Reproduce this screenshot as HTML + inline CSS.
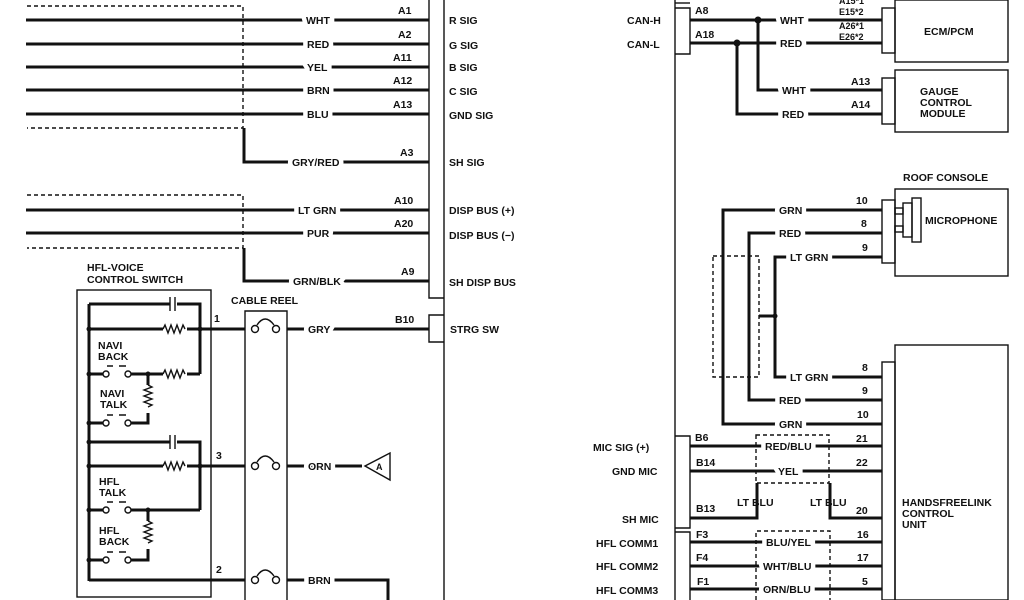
<!DOCTYPE html>
<html><head><meta charset="utf-8"><style>
html,body{margin:0;padding:0;background:#fff}
svg{display:block}
text{font-family:"Liberation Sans",Arial,sans-serif;font-weight:bold;font-size:10.5px;fill:#111}
.wl{paint-order:stroke;stroke:#fff;stroke-width:9px;stroke-linejoin:miter}
.w{stroke:#111;stroke-width:3;fill:none}
.t{stroke:#111;stroke-width:1.4;fill:none}
.d{stroke:#111;stroke-width:1.4;fill:none;stroke-dasharray:4,3}
</style></head><body>
<svg width="1024" height="600" viewBox="0 0 1024 600" xmlns="http://www.w3.org/2000/svg">
<g class="w">
<path d="M26 20H429M26 44H429M26 67H429M26 90H429M26 114H429"/>
<path d="M244 128V162H429"/>
<path d="M26 210H429M26 233H429"/>
<path d="M244 248V281H429"/>
<path d="M287 329H429"/>
<path d="M287 466H362"/>
<path d="M287 580H388V600"/>
</g>
<g class="d">
<path d="M27 6H243V128H27"/>
<path d="M27 195H243V248H27"/>
</g>
<g class="t">
<path d="M429 0V298H444M444 0V600"/>
<path d="M444 315H429V342H444"/>
</g>
<g>
<text x="306" y="24" class="wl">WHT</text>
<text x="307" y="48" class="wl">RED</text>
<text x="307" y="71" class="wl">YEL</text>
<text x="307" y="94" class="wl">BRN</text>
<text x="307" y="118" class="wl">BLU</text>
<text x="292" y="166" class="wl">GRY/RED</text>
<text x="298" y="214" class="wl">LT GRN</text>
<text x="307" y="237" class="wl">PUR</text>
<text x="293" y="285" class="wl">GRN/BLK</text>
<text x="308" y="333" class="wl">GRY</text>
<text x="308" y="470" class="wl">ORN</text>
<text x="308" y="584" class="wl">BRN</text>
<text x="398" y="14">A1</text><text x="398" y="38">A2</text><text x="393" y="61">A11</text>
<text x="393" y="84">A12</text><text x="393" y="108">A13</text><text x="400" y="156">A3</text>
<text x="394" y="204">A10</text><text x="394" y="227">A20</text><text x="401" y="275">A9</text>
<text x="395" y="323">B10</text>
<text x="449" y="24">R SIG</text><text x="449" y="49">G SIG</text><text x="449" y="71">B SIG</text>
<text x="449" y="95">C SIG</text><text x="449" y="119">GND SIG</text><text x="449" y="166">SH SIG</text>
<text x="449" y="214">DISP BUS (+)</text><text x="449" y="239">DISP BUS (−)</text>
<text x="449" y="286">SH DISP BUS</text><text x="450" y="333">STRG SW</text>
</g>
<path d="M365 466L390 453V480Z" class="t"/>
<text x="376" y="470" style="font-size:9px">A</text>
<text x="87" y="271">HFL-VOICE</text><text x="87" y="283">CONTROL SWITCH</text>
<rect x="77" y="290" width="134" height="307" class="t"/>
<g class="w" stroke-width="2.5">
<path d="M89 304V581"/>
<path d="M89 304H170M177 304H200V374"/>
<path d="M89 329H163M187 329H245"/>
<path d="M89 374H103M131 374H163M187 374H200"/>
<path d="M148 374V385M148 413V423H131M89 423H103"/>
<path d="M89 442H170M177 442H200V510"/>
<path d="M89 466H163M187 466H245"/>
<path d="M89 510H103M131 510H200"/>
<path d="M148 510V521M148 549V560H131M89 560H103"/>
<path d="M89 580H245"/>
</g>
<g class="t" stroke-width="1.6">
<path d="M170 297V311M175 297V311"/><path d="M170 435V449M175 435V449"/>
<path d="M163 329l2-4 3 8 3-8 3 8 3-8 3 8 3-8 2 4"/>
<path d="M163 466l2-4 3 8 3-8 3 8 3-8 3 8 3-8 2 4"/>
<path d="M163 374l2-4 3 8 3-8 3 8 3-8 3 8 3-8 2 4"/>
<path d="M148 385l4 2-8 3 8 3-8 3 8 3-8 3 8 3-4 2"/>
<path d="M148 521l4 2-8 3 8 3-8 3 8 3-8 3 8 3-4 2"/>
<circle cx="106" cy="374" r="3" fill="#fff"/><circle cx="128" cy="374" r="3" fill="#fff"/>
<circle cx="106" cy="423" r="3" fill="#fff"/><circle cx="128" cy="423" r="3" fill="#fff"/>
<circle cx="106" cy="510" r="3" fill="#fff"/><circle cx="128" cy="510" r="3" fill="#fff"/>
<circle cx="106" cy="560" r="3" fill="#fff"/><circle cx="128" cy="560" r="3" fill="#fff"/>
<path d="M107 366H113M119 366H126M107 415H113M119 415H126M107 502H113M119 502H126M107 552H113M119 552H126"/>
</g>
<g fill="#111"><circle cx="89" cy="329" r="2.5"/><circle cx="89" cy="374" r="2.5"/><circle cx="89" cy="423" r="2.5"/><circle cx="89" cy="442" r="2.5"/><circle cx="89" cy="466" r="2.5"/><circle cx="89" cy="510" r="2.5"/><circle cx="89" cy="560" r="2.5"/><circle cx="200" cy="329" r="2.5"/><circle cx="200" cy="466" r="2.5"/><circle cx="148" cy="374" r="2.5"/><circle cx="148" cy="510" r="2.5"/></g>
<text x="98" y="349">NAVI</text><text x="98" y="360">BACK</text>
<text x="100" y="397">NAVI</text><text x="100" y="408">TALK</text>
<text x="99" y="485">HFL</text><text x="99" y="496">TALK</text>
<text x="99" y="534">HFL</text><text x="99" y="545">BACK</text>
<text x="214" y="322">1</text><text x="216" y="459">3</text><text x="216" y="573">2</text>
<text x="231" y="304">CABLE REEL</text>
<path d="M245 600V311H287V600" class="t"/>
<g class="t" stroke-width="1.6">
<circle cx="255" cy="329" r="3.5" fill="#fff"/><circle cx="276" cy="329" r="3.5" fill="#fff"/><path d="M257 325Q265 313 274 325"/>
<circle cx="255" cy="466" r="3.5" fill="#fff"/><circle cx="276" cy="466" r="3.5" fill="#fff"/><path d="M257 462Q265 450 274 462"/>
<circle cx="255" cy="580" r="3.5" fill="#fff"/><circle cx="276" cy="580" r="3.5" fill="#fff"/><path d="M257 576Q265 564 274 576"/>
</g>
<g class="t"><path d="M675 0V600"/><path d="M675 3H690"/>
<path d="M675 8H690V54H675"/>
<path d="M675 436H690V528H675"/><path d="M675 532H690V600"/>
<rect x="882" y="8" width="13" height="45"/><rect x="895" y="0" width="113" height="62"/>
<rect x="882" y="78" width="13" height="46"/><rect x="895" y="70" width="113" height="62"/>
<rect x="882" y="200" width="13" height="63"/><rect x="895" y="189" width="113" height="87"/>
<rect x="895" y="208" width="8" height="6"/><rect x="895" y="226" width="8" height="6"/>
<rect x="903" y="203" width="9" height="34"/><rect x="912" y="198" width="9" height="44"/>
<rect x="882" y="362" width="13" height="238"/><rect x="895" y="345" width="113" height="255"/>
</g>
<g class="w">
<path d="M690 20H882M690 43H882"/>
<path d="M758 20V90H882M737 43V114H882"/>
<path d="M882 210H723V424H882"/>
<path d="M882 233H749V400H882"/>
<path d="M882 257H775V377H882"/>
<path d="M759 316H775"/>
<path d="M690 446H882M690 471H882"/>
<path d="M690 518H757V483M830 483V518H882"/>
<path d="M690 542H882M690 566H882M690 589H882"/>
</g>
<g fill="#111"><circle cx="758" cy="20" r="3.5"/><circle cx="737" cy="43" r="3.5"/><circle cx="775" cy="316" r="2.5"/></g>
<g class="d">
<rect x="713" y="256" width="46" height="121"/>
<rect x="756" y="435" width="73" height="48"/>
<path d="M756 600V531H830V600"/>
</g>
<g>
<text x="780" y="24" class="wl">WHT</text><text x="780" y="47" class="wl">RED</text>
<text x="782" y="94" class="wl">WHT</text><text x="782" y="118" class="wl">RED</text>
<text x="779" y="214" class="wl">GRN</text><text x="779" y="237" class="wl">RED</text>
<text x="790" y="261" class="wl">LT GRN</text><text x="790" y="381" class="wl">LT GRN</text>
<text x="779" y="404" class="wl">RED</text><text x="779" y="428" class="wl">GRN</text>
<text x="765" y="450" class="wl">RED/BLU</text><text x="778" y="475" class="wl">YEL</text>
<text x="766" y="546" class="wl">BLU/YEL</text><text x="763" y="570" class="wl">WHT/BLU</text><text x="763" y="593" class="wl">ORN/BLU</text>
<text x="627" y="24">CAN-H</text><text x="627" y="48">CAN-L</text>
<text x="695" y="14">A8</text><text x="695" y="38">A18</text>
<text x="839" y="4" style="font-size:9px">A15*1</text><text x="839" y="15" style="font-size:9px">E15*2</text>
<text x="839" y="29" style="font-size:9px">A26*1</text><text x="839" y="40" style="font-size:9px">E26*2</text>
<text x="924" y="35">ECM/PCM</text>
<text x="851" y="85">A13</text><text x="851" y="108">A14</text>
<text x="920" y="95">GAUGE</text><text x="920" y="106">CONTROL</text><text x="920" y="117">MODULE</text>
<text x="903" y="181">ROOF CONSOLE</text><text x="925" y="224">MICROPHONE</text>
<text x="856" y="204">10</text><text x="861" y="227">8</text><text x="862" y="251">9</text>
<text x="862" y="371">8</text><text x="862" y="394">9</text><text x="857" y="418">10</text>
<text x="593" y="451">MIC SIG (+)</text><text x="612" y="475">GND MIC</text><text x="622" y="523">SH MIC</text>
<text x="596" y="547">HFL COMM1</text><text x="596" y="570">HFL COMM2</text><text x="596" y="594">HFL COMM3</text>
<text x="695" y="441">B6</text><text x="696" y="466">B14</text><text x="696" y="512">B13</text>
<text x="696" y="538">F3</text><text x="696" y="561">F4</text><text x="697" y="585">F1</text>
<text x="737" y="506">LT BLU</text><text x="810" y="506">LT BLU</text>
<text x="856" y="442">21</text><text x="856" y="466">22</text><text x="856" y="514">20</text>
<text x="857" y="538">16</text><text x="857" y="561">17</text><text x="862" y="585">5</text>
<text x="902" y="506">HANDSFREELINK</text><text x="902" y="517">CONTROL</text><text x="902" y="528">UNIT</text>
</g>
</svg>
</body></html>
